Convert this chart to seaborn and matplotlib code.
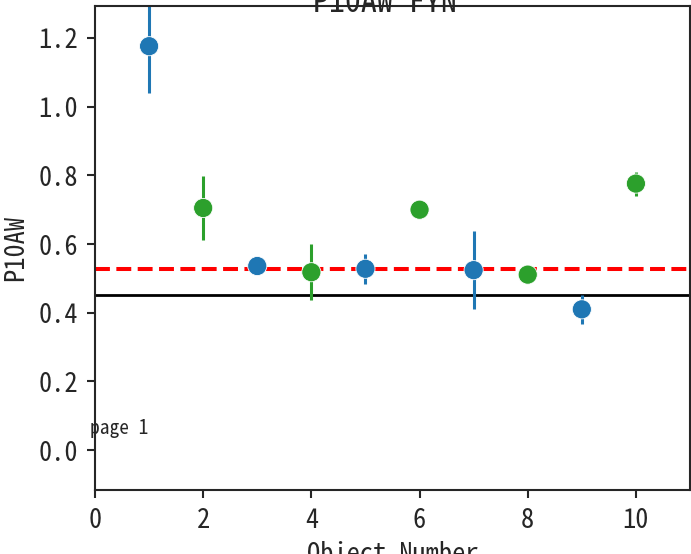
import numpy as np
import pandas as pd
import matplotlib
matplotlib.use("Agg")
import matplotlib.pyplot as plt
import seaborn as sns

# data
object_number = [1, 2, 3, 4, 5, 6, 7, 8, 9, 10]
p10aw = [1.176, 0.705, 0.536, 0.518, 0.528, 0.700, 0.524, 0.511, 0.410, 0.776]
p10aw_err = [0.137, 0.092, 0.0, 0.082, 0.043, 0.0, 0.114, 0.0, 0.042, 0.035]
group = ["A", "B", "A", "B", "A", "B", "A", "B", "A", "B"]
ref_dashed = 0.528
ref_solid = 0.451

sns.set_style("ticks")
plt.rcParams['font.family'] = ['Noto Sans Mono CJK JP', 'Noto Sans CJK JP', 'DejaVu Sans Mono']

df = pd.DataFrame({"obj": object_number, "val": p10aw, "err": p10aw_err, "grp": group})
colors = {"A": "#1f77b4", "B": "#2ca02c"}

fig = plt.figure(figsize=(6.91, 5.54), dpi=100)
ax = fig.add_axes([95 / 691, 1 - 490 / 554, 595 / 691, 484 / 554])

for g, sub in df.groupby("grp"):
    ax.errorbar(sub["obj"], sub["val"], yerr=sub["err"], fmt="none",
                ecolor=colors[g], elinewidth=2.2, capsize=0, zorder=2)

sns.scatterplot(data=df, x="obj", y="val", hue="grp", palette=colors,
                s=190, edgecolor="white", linewidth=0.6, legend=False,
                ax=ax, zorder=3)

ax.axhline(ref_dashed, color="red", linestyle="--", linewidth=2.9, zorder=1)
ax.axhline(ref_solid, color="black", linewidth=2.0, zorder=1)

ax.set_xlim(0, 11)
ax.set_ylim(-0.116, 1.293)
ax.set_xticks([0, 2, 4, 6, 8, 10])
ax.set_yticks([0.0, 0.2, 0.4, 0.6, 0.8, 1.0, 1.2])
ax.tick_params(labelsize=19, length=6, width=1.5, pad=6, direction="out")
for sp in ax.spines.values():
    sp.set_linewidth(1.5)

ax.set_title("P10AW FYN ", fontsize=23, y=1.0, pad=-4.3)
ax.set_xlabel("Object Number", fontsize=19, labelpad=5)
ax.set_ylabel("P10AW", fontsize=19, labelpad=7)

fig.text(90 / 691, 1 - 434 / 554, "page 1", fontsize=14, va="baseline", ha="left")

fig.savefig("out.png", dpi=100)
